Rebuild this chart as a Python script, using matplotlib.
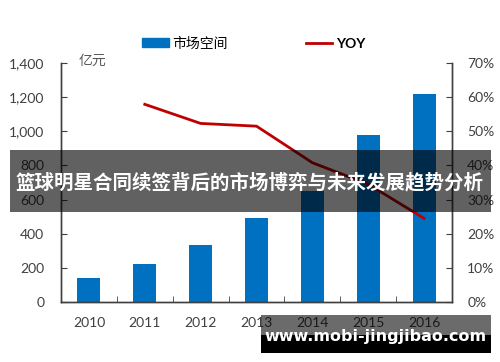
import numpy as np
import matplotlib
matplotlib.use('Agg')
import matplotlib.pyplot as plt
from matplotlib.patches import Rectangle
from matplotlib.lines import Line2D
from matplotlib.ticker import FuncFormatter

plt.rcParams['font.family'] = ['Lato', 'Noto Sans CJK SC', 'DejaVu Sans']

years = ['2010', '2011', '2012', '2013', '2014', '2015', '2016']
market = [139, 221, 336, 495, 650, 978, 1218]
yoy_years = ['2011', '2012', '2013', '2014', '2015', '2016']
yoy = [0.579, 0.523, 0.515, 0.408, 0.345, 0.245]

blue = '#0070C0'
red = '#C00000'
grey = '#404040'

fig = plt.figure(figsize=(5, 3.62), dpi=100)
ax = fig.add_axes([0.122, 0.1657, 0.782, 0.6603])
ax2 = ax.twinx()

x = np.arange(len(years))
ax.bar(x, market, width=0.41, color=blue, zorder=2)
xl = [years.index(y) for y in yoy_years]
ax2.plot(xl, yoy, color=red, lw=2.0, solid_joinstyle='round')

ax.set_xlim(-0.5, 6.5)
ax.set_ylim(0, 1400)
ax.set_yticks(np.arange(0, 1401, 200))
ax.yaxis.set_major_formatter(FuncFormatter(lambda v, p: f'{int(v):,}'))
ax2.set_ylim(0, 0.7)
ax2.set_yticks(np.arange(0, 0.71, 0.1))
ax2.yaxis.set_major_formatter(FuncFormatter(lambda v, p: f'{v*100:.0f}%'))

ax.set_xticks(x)
ax.set_xticklabels(years)
ax.set_xticks(np.arange(0.5, 6, 1), minor=True)
ax.tick_params(axis='x', which='major', length=0, pad=11, labelsize=10, labelcolor=grey)
ax.tick_params(axis='x', which='minor', direction='in', length=4, color=grey)
ax.tick_params(axis='y', direction='in', length=4, pad=12, labelsize=10, labelcolor=grey, color=grey)
ax2.tick_params(axis='y', direction='in', length=4, pad=11, labelsize=10, labelcolor=grey, color=grey)

for a in (ax, ax2):
    a.spines['top'].set_visible(False)
    for s in ('left', 'right', 'bottom'):
        a.spines[s].set_color(grey)
        a.spines[s].set_linewidth(1.0)

fig.text(0.158, 0.832, '亿元', fontsize=10, color='#595959', va='center', ha='left')

handles = [Rectangle((0, 0), 1, 1, color=blue), Line2D([], [], color=red, lw=2)]
leg = fig.legend(handles, ['市场空间', 'YOY'], ncol=2, loc='center',
                 bbox_to_anchor=(0.508, 0.881), frameon=False, fontsize=10,
                 handlelength=1.9, handleheight=0.6, handletextpad=0.3, columnspacing=5.6)
leg.get_texts()[1].set_fontweight('bold')

# banner overlay
fig.add_artist(Rectangle((0.02, 0.4144), 0.962, 0.171, transform=fig.transFigure,
                         facecolor='black', alpha=0.62, edgecolor='none', zorder=10))
fig.text(0.5, 0.4945, '篮球明星合同续签背后的市场博弈与未来发展趋势分析', fontsize=14,
         fontweight='bold', color='white', ha='center', va='center', zorder=11,
         family=['Noto Sans CJK SC', 'DejaVu Sans'])

# watermark
fig.add_artist(Rectangle((0.522, 1 - 335 / 362), 0.46, 20 / 362, transform=fig.transFigure,
                         facecolor='black', alpha=0.58, edgecolor='none', zorder=10))
fig.add_artist(Rectangle((0.522, 1 - 353 / 362), 0.46, 18 / 362, transform=fig.transFigure,
                         facecolor='black', edgecolor='none', zorder=10))
fig.text(0.751, 1 - 337 / 362, 'www.mobi-jingjibao.com', fontsize=11.5, fontweight='bold',
         color='white', ha='center', va='center', zorder=11, family=['DejaVu Sans'])

fig.savefig('out.png', dpi=100)
